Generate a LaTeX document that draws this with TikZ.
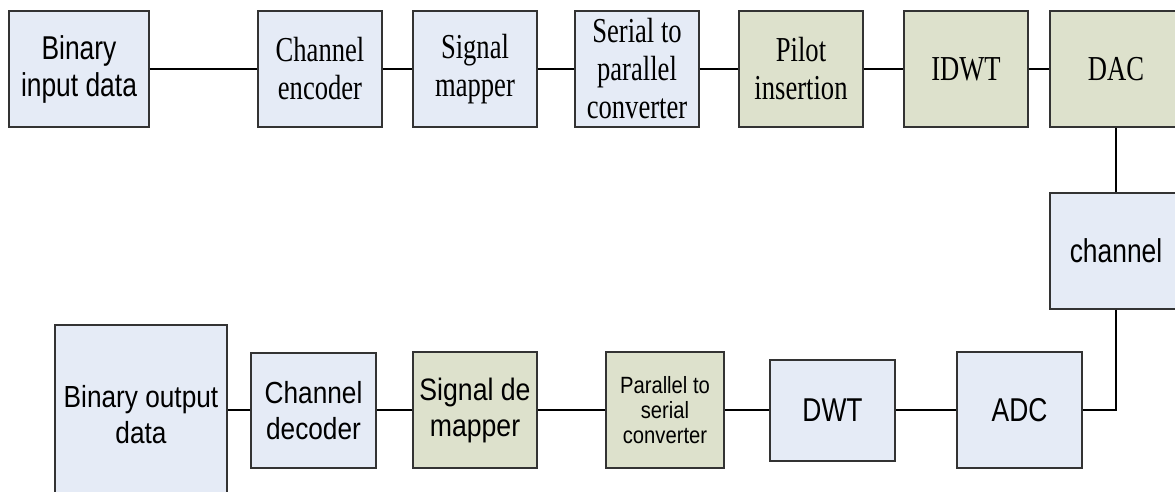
\documentclass[tikz,border=0pt]{standalone}
\usepackage{fontspec}
\newfontfamily\tms{Liberation Serif}[FakeStretch=0.76]
\newfontfamily\arlA{Liberation Sans}[FakeStretch=0.8]
\newfontfamily\arl{Liberation Sans}[FakeStretch=0.86]
\definecolor{bluefill}{HTML}{E5EBF6}
\definecolor{greenfill}{HTML}{DDE1CC}
\definecolor{edge}{HTML}{333333}
\tikzset{
  blk/.style={draw=edge, line width=1.2pt, align=center, inner sep=0pt,
    minimum width=124pt, minimum height=116pt},
  bluebox/.style={blk, fill=bluefill},
  greenbox/.style={blk, fill=greenfill},
  serifbig/.style={font={\tms\fontsize{35}{38}\selectfont}},
  sanstop/.style={font={\arlA\fontsize{33}{37}\selectfont}},
  sansmid/.style={font={\arl\fontsize{30.5}{36}\selectfont}},
  sanssmall/.style={font={\arl\fontsize{23.5}{25}\selectfont}},
  link/.style={draw=black, line width=1.3pt}
}
\begin{document}
\begin{tikzpicture}[x=1pt, y=-1pt]
\useasboundingbox (0,0) rectangle (1175,491);
\clip (0,0) rectangle (1175,491);
\fill[white] (0,0) rectangle (1175,491);

% transmitter chain
\node[bluebox, sanstop, minimum width=140pt] (bin_in) at (79,69) {Binary\\input data};
\node[bluebox, serifbig] (enc) at (320,69) {Channel\\encoder};
\node[bluebox, serifbig] (map) at (475,69) {Signal\\mapper};
\node[bluebox, serifbig] (s2p) at (637,69) {Serial to\\parallel\\converter};
\node[greenbox, serifbig] (pilot) at (801,69) {Pilot\\insertion};
\node[greenbox, serifbig] (idwt) at (966,69) {IDWT};
\node[greenbox, serifbig, minimum width=132pt] (dac) at (1116,69) {DAC};

% channel
\node[bluebox, sanstop, minimum width=132pt] (chan) at (1116,251) {channel};

% receiver chain
\node[bluebox, sanstop, minimum width=125pt] (adc) at (1019.5,410) {ADC};
\node[bluebox, sanstop, minimum width=125pt, minimum height=101pt] (dwt) at (832.5,410.5) {DWT};
\node[greenbox, sanssmall, minimum width=118pt] (p2s) at (665,410) {Parallel to\\serial\\converter};
\node[greenbox, font={\arl\fontsize{31}{36}\selectfont}] (demap) at (475,410) {Signal de\\mapper};
\node[bluebox, sansmid, minimum width=125pt, minimum height=115pt] (dec) at (313.5,410.5) {Channel\\decoder};
\node[bluebox, sansmid, minimum width=172pt, minimum height=180pt] (bin_out) at (141,415) {Binary output\\data};

% connectors
\draw[link] (bin_in) -- (enc);
\draw[link] (enc) -- (map);
\draw[link] (map) -- (s2p);
\draw[link] (s2p) -- (pilot);
\draw[link] (pilot) -- (idwt);
\draw[link] (idwt) -- (dac);
\draw[link] (dac) -- (chan);
\draw[link] (chan.south) |- (adc.east);
\draw[link] (adc.west) -- (dwt.east |- adc.west);
\draw[link] (dwt.west |- adc.west) -- (p2s.east);
\draw[link] (p2s) -- (demap);
\draw[link] (demap.west) -- (dec.east |- demap.west);
\draw[link] (dec.west |- demap.west) -- (bin_out.east |- demap.west);
\end{tikzpicture}
\end{document}
